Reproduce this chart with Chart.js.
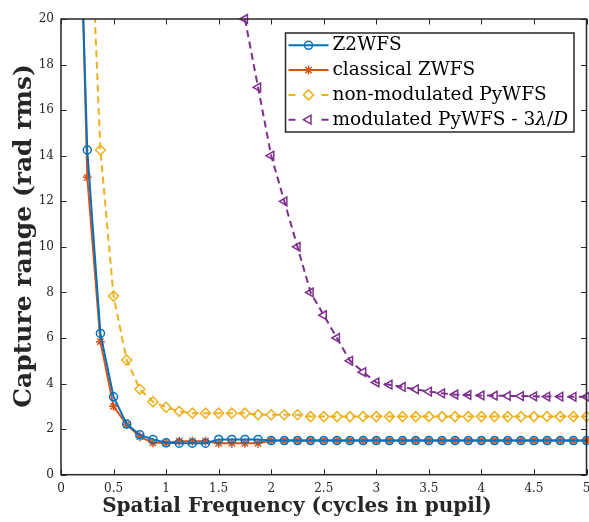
<!DOCTYPE html>
<html>
<head>
<meta charset="utf-8">
<script src="https://cdn.jsdelivr.net/npm/chart.js@4.4.0/dist/chart.umd.min.js"></script>
<style>
  html, body { margin: 0; padding: 0; background: #fff; }
  #wrap { width: 589px; height: 522px; }
</style>
</head>
<body>
<div id="wrap"><canvas id="chart" width="589" height="522"></canvas></div>
<script>
// spatial frequency samples (cycles in pupil)
const freqs = [0.125, 0.25, 0.375, 0.5, 0.625, 0.75, 0.875, 1.0, 1.125, 1.25,
  1.375, 1.5, 1.625, 1.75, 1.875, 2.0, 2.125, 2.25, 2.375, 2.5,
  2.625, 2.75, 2.875, 3.0, 3.125, 3.25, 3.375, 3.5, 3.625, 3.75,
  3.875, 4.0, 4.125, 4.25, 4.375, 4.5, 4.625, 4.75, 4.875, 5.0];

const z2wfs = [33, 14.25, 6.2, 3.42, 2.22, 1.75, 1.55, 1.4, 1.38, 1.38,
  1.38, 1.55, 1.55, 1.55, 1.55, 1.5, 1.5, 1.5, 1.5, 1.5,
  1.5, 1.5, 1.5, 1.5, 1.5, 1.5, 1.5, 1.5, 1.5, 1.5,
  1.5, 1.5, 1.5, 1.5, 1.5, 1.5, 1.5, 1.5, 1.5, 1.5];

const classicalZwfs = [36, 13.05, 5.84, 3.0, 2.2, 1.67, 1.4, 1.4, 1.47, 1.47,
  1.47, 1.38, 1.38, 1.38, 1.38, 1.5, 1.5, 1.5, 1.5, 1.5,
  1.5, 1.5, 1.5, 1.5, 1.5, 1.5, 1.5, 1.5, 1.5, 1.5,
  1.5, 1.5, 1.5, 1.5, 1.5, 1.5, 1.5, 1.5, 1.5, 1.5];

const pyNonMod = [60, 28, 14.25, 7.84, 5.03, 3.75, 3.2, 2.96, 2.78, 2.7,
  2.7, 2.7, 2.7, 2.7, 2.63, 2.63, 2.63, 2.63, 2.55, 2.55,
  2.55, 2.55, 2.55, 2.55, 2.55, 2.55, 2.55, 2.55, 2.55, 2.55,
  2.55, 2.55, 2.55, 2.55, 2.55, 2.55, 2.55, 2.55, 2.55, 2.55];

const pyMod = [null, null, null, null, null, null, null, null, null, null,
  null, null, null, 20, 17, 14, 12, 10, 8, 7,
  6, 5, 4.5, 4.05, 3.95, 3.85, 3.75, 3.65, 3.57, 3.52,
  3.5, 3.48, 3.47, 3.46, 3.45, 3.44, 3.43, 3.43, 3.42, 3.42];

const seriesLabels = ['Z2WFS', 'classical ZWFS', 'non-modulated PyWFS', 'modulated PyWFS - 3\u03bb/D'];
// legend text pieces, second item = italic
const legendText = [
  [['Z2WFS', false]],
  [['classical ZWFS', false]],
  [['non-modulated PyWFS', false]],
  [['modulated PyWFS - 3', false], ['\u03bb', true], ['/', false], ['D', true]]
];

const xTitle = 'Spatial Frequency (cycles in pupil)';
const yTitle = 'Capture range (rad rms)';

const axisColor = '#262626';
const serif = '"DejaVu Serif", "Liberation Serif", serif';

function pts(values) {
  return freqs.map((f, i) => ({ x: f, y: values[i] }));
}

const clipTop = { left: 0, top: 0, right: 8, bottom: 8 };

const datasets = [
  {
    label: seriesLabels[0], data: pts(z2wfs),
    borderColor: '#0072BD', borderWidth: 2,
    pointStyle: 'circle', pointRadius: 4, pointBorderWidth: 1.5,
    pointBackgroundColor: 'rgba(0,0,0,0)', pointBorderColor: '#0072BD',
    clip: clipTop
  },
  {
    label: seriesLabels[1], data: pts(classicalZwfs),
    borderColor: '#D95319', borderWidth: 2,
    pointStyle: 'star', pointRadius: 4.5, pointBorderWidth: 1.5,
    pointBackgroundColor: 'rgba(0,0,0,0)', pointBorderColor: '#D95319',
    clip: clipTop
  },
  {
    label: seriesLabels[2], data: pts(pyNonMod),
    borderColor: '#EDB120', borderWidth: 2, borderDash: [7, 4.5],
    pointStyle: 'rectRot', pointRadius: 5, pointBorderWidth: 1.5,
    pointBackgroundColor: 'rgba(0,0,0,0)', pointBorderColor: '#EDB120',
    clip: clipTop
  },
  {
    label: seriesLabels[3], data: pts(pyMod),
    borderColor: '#7E2F8E', borderWidth: 2, borderDash: [7, 4.5],
    pointStyle: 'triangle', pointRotation: -90, pointRadius: 5, pointBorderWidth: 1.5,
    pointBackgroundColor: 'rgba(0,0,0,0)', pointBorderColor: '#7E2F8E',
    clip: false
  }
];

// box around the axes and inward ticks on all four sides
const boxPlugin = {
  id: 'axesBox',
  afterDatasetsDraw(chart) {
    const ctx = chart.ctx;
    const a = chart.chartArea;
    const xs = chart.scales.x, ys = chart.scales.y;
    const tl = 5.5;
    ctx.save();
    ctx.strokeStyle = axisColor;
    ctx.lineWidth = 1;
    ctx.beginPath();
    xs.ticks.forEach((t) => {
      const px = Math.round(xs.getPixelForValue(t.value)) + 0.5;
      ctx.moveTo(px, a.bottom); ctx.lineTo(px, a.bottom - tl);
      ctx.moveTo(px, a.top); ctx.lineTo(px, a.top + tl);
    });
    ys.ticks.forEach((t) => {
      const py = Math.round(ys.getPixelForValue(t.value)) + 0.5;
      ctx.moveTo(a.left, py); ctx.lineTo(a.left + tl, py);
      ctx.moveTo(a.right, py); ctx.lineTo(a.right - tl, py);
    });
    ctx.stroke();
    ctx.lineWidth = 1.5;
    ctx.strokeRect(a.left, a.top, a.right - a.left, a.bottom - a.top);
    ctx.restore();
  }
};

// axis titles, placed where the original has them (a bit left / up of centre)
const titlesPlugin = {
  id: 'axisTitles',
  afterDraw(chart) {
    const ctx = chart.ctx;
    const a = chart.chartArea;
    ctx.save();
    ctx.fillStyle = axisColor;
    ctx.textAlign = 'center';
    ctx.textBaseline = 'middle';
    ctx.font = 'bold 20px ' + serif;
    ctx.fillText(xTitle, a.left + 236, 507);
    ctx.translate(24, a.top + 217);
    ctx.rotate(-Math.PI / 2);
    ctx.font = 'bold 25px ' + serif;
    ctx.fillText(yTitle, 0, 0);
    ctx.restore();
  }
};

function drawMarker(ctx, ds, x, y) {
  const opts = {
    pointStyle: ds.pointStyle, rotation: ds.pointRotation || 0,
    radius: ds.pointRadius, borderWidth: ds.pointBorderWidth
  };
  ctx.strokeStyle = ds.pointBorderColor;
  ctx.fillStyle = 'rgba(0,0,0,0)';
  ctx.lineWidth = ds.pointBorderWidth;
  ctx.setLineDash([]);
  if (Chart.helpers && Chart.helpers.drawPoint) {
    Chart.helpers.drawPoint(ctx, opts, x, y);
  } else {
    ctx.beginPath();
    ctx.arc(x, y, ds.pointRadius, 0, Math.PI * 2);
    ctx.stroke();
  }
}

const legendPlugin = {
  id: 'boxLegend',
  afterDraw(chart) {
    const ctx = chart.ctx;
    const a = chart.chartArea;
    const regular = '18.5px ' + serif;
    const italic = 'italic 18.5px ' + serif;
    ctx.save();
    let maxW = 0;
    legendText.forEach((parts) => {
      let w = 0;
      parts.forEach(([s, it]) => { ctx.font = it ? italic : regular; w += ctx.measureText(s).width; });
      maxW = Math.max(maxW, w);
    });
    const rowH = 24.8;
    const right = a.right - 12.5;
    const left = right - 6 - maxW - 47;
    const top = a.top + 14;
    const bottom = top + 99;
    ctx.fillStyle = '#fff';
    ctx.fillRect(left, top, right - left, bottom - top);
    ctx.strokeStyle = axisColor;
    ctx.lineWidth = 1.5;
    ctx.strokeRect(left, top, right - left, bottom - top);

    chart.data.datasets.forEach((ds, i) => {
      const cy = top + 12.3 + i * rowH;
      ctx.strokeStyle = ds.borderColor;
      ctx.lineWidth = ds.borderWidth;
      ctx.beginPath();
      ctx.setLineDash(ds.borderDash ? [7, 26] : []);
      ctx.moveTo(left + 3, cy);
      ctx.lineTo(left + 43, cy);
      ctx.stroke();
      drawMarker(ctx, ds, left + 23, cy);

      let tx = left + 47;
      ctx.fillStyle = '#000';
      ctx.textBaseline = 'middle';
      legendText[i].forEach(([s, it]) => {
        ctx.font = it ? italic : regular;
        ctx.fillText(s, tx, cy);
        tx += ctx.measureText(s).width;
      });
    });
    ctx.restore();
  }
};

const tickFont = { family: serif, size: 12 };

// the end labels may spill outside the axes box, as in the original
const noPadding = () => ({ left: 0, top: 0, right: 0, bottom: 0 });

new Chart(document.getElementById('chart').getContext('2d'), {
  type: 'line',
  data: { datasets: datasets },
  options: {
    responsive: false,
    animation: false,
    events: [],
    layout: { autoPadding: false, padding: { left: 0, right: 2.5, top: 19, bottom: 0 } },
    plugins: { legend: { display: false }, tooltip: { enabled: false } },
    scales: {
      x: {
        type: 'linear', min: 0, max: 5,
        grid: { display: false, drawTicks: false },
        border: { display: false },
        ticks: {
          stepSize: 0.5, font: tickFont, color: axisColor, padding: 7, maxRotation: 0, autoSkip: false,
          callback: (v) => String(Math.round(v * 100) / 100)
        },
        afterFit(s) {
          s.height = 47.3;
          s.paddingLeft = 0; s.paddingRight = 0;
          s.getPadding = noPadding;
        }
      },
      y: {
        type: 'linear', min: 0, max: 20,
        grid: { display: false, drawTicks: false },
        border: { display: false },
        ticks: { stepSize: 2, font: tickFont, color: axisColor, padding: 7, autoSkip: false },
        afterFit(s) {
          s.width = 61;
          s.paddingTop = 0; s.paddingBottom = 0;
          s.getPadding = noPadding;
        }
      }
    }
  },
  plugins: [boxPlugin, titlesPlugin, legendPlugin]
});
</script>
</body>
</html>
